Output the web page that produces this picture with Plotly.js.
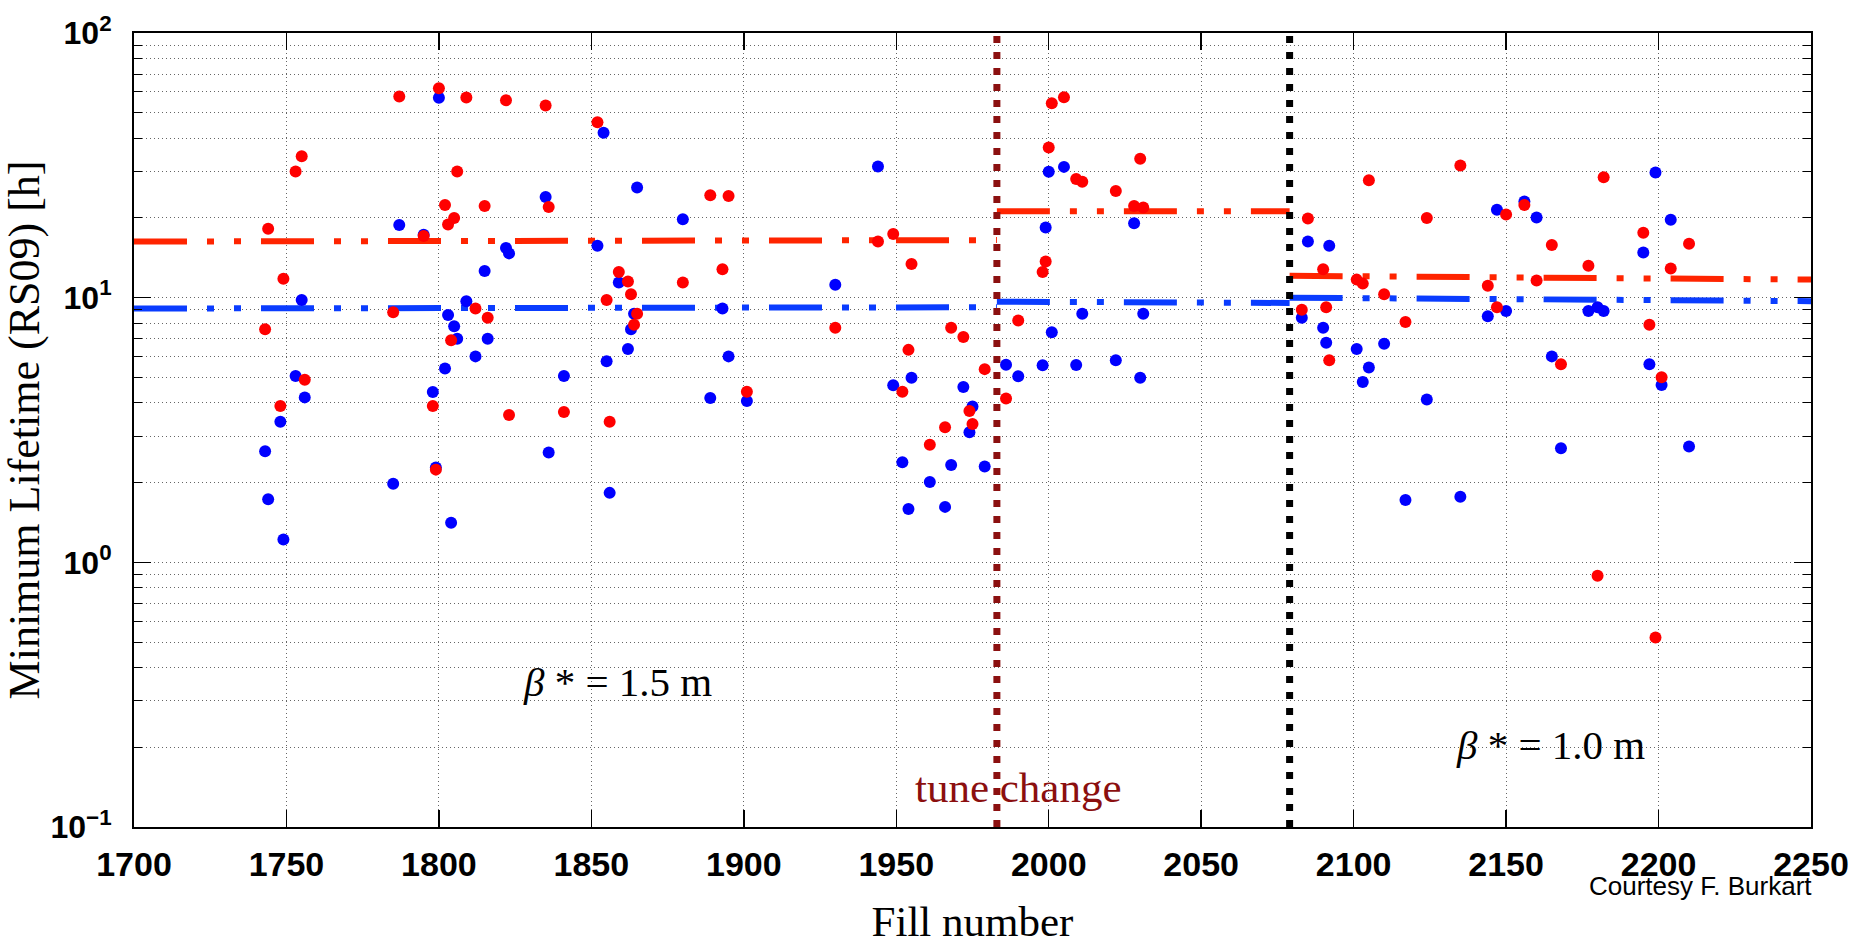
<!DOCTYPE html>
<html>
<head>
<meta charset="utf-8">
<script src="https://cdn.plot.ly/plotly-3.0.1.min.js"></script>
<style>html,body{margin:0;padding:0;background:#fff;}#chart{width:1862px;height:945px;}</style>
</head>
<body>
<div id="chart"></div>
<script>
// Beam 1 (blue) minimum lifetime per fill
const blueFill = [1743,1744,1748,1749,1753,1755,1756,1785,1787,1795,1798,1799,1800,1802,1803,1804,1805,1806,1809,1812,1815,1816,1822,1823,1835,1836,1841,1852,1854,1855,1856,1859,1862,1863,1864,1865,1880,1889,1893,1895,1901,1930,1944,1949,1952,1954,1955,1961,1966,1968,1972,1974,1975,1979,1986,1990,1998,1999,2000,2001,2005,2009,2011,2022,2028,2030,2031,2083,2085,2090,2091,2092,2101,2103,2105,2110,2117,2124,2135,2144,2147,2150,2156,2160,2165,2168,2177,2180,2182,2195,2197,2199,2201,2204,2210];
const blueLife = [2.63,1.73,3.4,1.22,5.06,9.8,4.2,1.98,18.8,17.3,4.4,2.28,56.9,5.4,8.6,1.41,7.8,7.0,9.7,6.0,12.6,7.0,15.4,14.7,24.0,2.6,5.06,15.7,42.0,5.75,1.83,11.4,6.4,7.6,8.7,26.1,19.8,4.18,9.1,6.0,4.07,11.2,31.3,4.67,2.39,1.59,4.98,2.01,1.62,2.33,4.6,3.10,3.88,2.30,5.58,5.05,5.56,18.4,29.9,7.4,31.2,5.57,8.7,5.8,19.1,4.98,8.7,8.4,16.3,7.7,6.75,15.7,6.4,4.8,5.45,6.7,1.72,4.12,1.77,8.5,21.5,8.9,23.1,20.1,6.0,2.70,8.9,9.2,8.9,14.8,5.6,29.7,4.68,19.7,2.74];
// Beam 2 (red) minimum lifetime per fill
const redFill = [1743,1744,1748,1749,1753,1755,1756,1785,1787,1795,1798,1799,1800,1802,1803,1804,1805,1806,1809,1812,1815,1816,1822,1823,1835,1836,1841,1852,1855,1856,1859,1862,1863,1864,1865,1880,1889,1893,1895,1901,1930,1944,1949,1952,1954,1955,1961,1966,1968,1972,1974,1975,1979,1986,1990,1998,1999,2000,2001,2005,2009,2011,2022,2028,2030,2031,2083,2085,2090,2091,2092,2101,2103,2105,2110,2117,2124,2135,2144,2147,2150,2156,2160,2165,2168,2177,2180,2182,2195,2197,2199,2201,2204,2210];
const redLife = [7.6,18.2,3.9,11.8,30.0,34.2,4.9,8.8,57.5,17.1,3.9,2.24,61.8,22.4,18.9,6.9,20.0,30.0,57.0,9.1,22.2,8.4,55.7,3.6,53.2,22.0,3.7,46.0,9.8,3.4,12.5,11.5,10.3,7.9,8.7,11.4,24.4,12.8,24.2,4.41,7.7,16.3,17.4,4.41,6.35,13.4,2.78,3.24,7.7,7.1,3.73,3.33,5.37,4.16,8.2,12.5,13.7,36.9,54.3,57.2,28.1,27.4,25.3,22.2,33.5,21.9,9.0,19.9,12.8,9.2,5.8,11.7,11.3,27.8,10.3,8.1,20.0,31.6,11.1,9.2,20.6,22.4,11.6,15.8,5.6,13.2,0.89,28.5,17.6,7.9,0.52,5.0,12.9,16.0];
// Average lifetime per period (start / end of each period)
const periodStart = [1700, 1983, 2079];
const periodEnd   = [1983, 2079, 2250];
const redMeanStart  = [16.3, 21.2, 12.1];
const redMeanEnd    = [16.5, 21.2, 11.7];
const blueMeanStart = [9.1, 9.66, 10.0];
const blueMeanEnd   = [9.2, 9.55, 9.7];
// Event markers
const tuneChangeFill = 1983;
const betaChangeFill = 2079;
const yTickVals = [0.1, 1, 10, 100];
const yTickText = ['10<sup>\u22121</sup>', '10<sup>0</sup>', '10<sup>1</sup>', '10<sup>2</sup>'];
const yMinorVals = [];
[0.1, 1, 10].forEach(d => { for (let k = 2; k <= 9; k++) yMinorVals.push(+(d * k).toFixed(3)); });

const traces = [];
const meanDash = '53px,20px,7px,20px,7px,20px';
for (let i = 0; i < periodStart.length; i++) {
  traces.push({x:[periodStart[i], periodEnd[i]], y:[redMeanStart[i], redMeanEnd[i]], mode:'lines', line:{color:'#ff2400', width:6, dash:meanDash}, hoverinfo:'skip'});
  traces.push({x:[periodStart[i], periodEnd[i]], y:[blueMeanStart[i], blueMeanEnd[i]], mode:'lines', line:{color:'#0a3cff', width:6, dash:meanDash}, hoverinfo:'skip'});
}
traces.push({x:[tuneChangeFill, tuneChangeFill], y:[0.1, 100], mode:'lines', line:{color:'#8b1010', width:7, dash:'7px,9px'}, hoverinfo:'skip'});
traces.push({x:[betaChangeFill, betaChangeFill], y:[0.1, 100], mode:'lines', line:{color:'#000000', width:7, dash:'7px,9px'}, hoverinfo:'skip'});
traces.push({x:blueFill, y:blueLife, mode:'markers', name:'B1', marker:{color:'#0000ff', size:12}});
traces.push({x:redFill, y:redLife, mode:'markers', name:'B2', marker:{color:'#ff0000', size:12}});

const gridDash = '1px,3px';
const gridColor = '#666';
const layout = {
  width:1862, height:945,
  margin:{l:134, r:51, t:33, b:118, pad:0},
  paper_bgcolor:'#ffffff', plot_bgcolor:'#ffffff',
  showlegend:false,
  xaxis:{
    range:[1700, 2250], tick0:1700, dtick:50, autorange:false,
    ticks:'inside', ticklen:17, tickwidth:1.5, tickcolor:'#000',
    showline:true, linecolor:'#000', linewidth:2, mirror:'ticks',
    showgrid:true, gridcolor:gridColor, gridwidth:1, griddash:gridDash, zeroline:false,
    tickfont:{family:'Liberation Sans, Arial, sans-serif', size:34, weight:'bold', color:'#000'},
    ticklabelstandoff:6,
    title:{text:'Fill number', font:{family:'Liberation Serif, serif', size:43, color:'#000'}, standoff:36},
    automargin:false
  },
  yaxis:{
    type:'log', range:[-1, 2], autorange:false,
    tickmode:'array', tickvals:yTickVals, ticktext:yTickText,
    ticks:'inside', ticklen:17, tickwidth:1.5, tickcolor:'#000',
    showline:true, linecolor:'#000', linewidth:2, mirror:'ticks',
    showgrid:true, gridcolor:gridColor, gridwidth:1, griddash:gridDash, zeroline:false,
    minor:{tickmode:'array', tickvals:yMinorVals, ticks:'inside', ticklen:8, tickwidth:1, tickcolor:'#000', showgrid:true, gridcolor:gridColor, gridwidth:1, griddash:gridDash},
    tickfont:{family:'Liberation Sans, Arial, sans-serif', size:32, weight:'bold', color:'#000'},
    ticklabelstandoff:14,
    title:{text:'Minimum Lifetime (RS09) [h]', font:{family:'Liberation Serif, serif', size:44, color:'#000'}, standoff:16},
    automargin:false
  },
  annotations:[
    {xref:'x', yref:'y', x:1858.6, y:-0.453, text:'<i>β</i> * = 1.5 m', showarrow:false, font:{family:'Liberation Serif, serif', size:41, color:'#000'}, xanchor:'center', yanchor:'middle'},
    {xref:'x', yref:'y', x:2164.7, y:-0.69, text:'<i>β</i> * = 1.0 m', showarrow:false, font:{family:'Liberation Serif, serif', size:41, color:'#000'}, xanchor:'center', yanchor:'middle'},
    {xref:'x', yref:'y', x:1990, y:-0.849, text:'tune change', showarrow:false, font:{family:'Liberation Serif, serif', size:43, color:'#8b0f0f'}, xanchor:'center', yanchor:'middle'},
    {xref:'paper', yref:'paper', x:1.002, y:-0.074, text:'Courtesy F. Burkart', showarrow:false, font:{family:'Liberation Sans, Arial, sans-serif', size:26, color:'#000'}, xanchor:'right', yanchor:'middle'}
  ]
};
Plotly.newPlot('chart', traces, layout, {displayModeBar:false, staticPlot:true});
</script>
</body>
</html>
